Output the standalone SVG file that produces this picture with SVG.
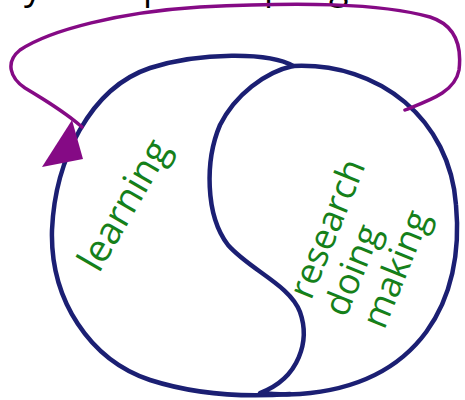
<svg xmlns="http://www.w3.org/2000/svg" width="465" height="400" viewBox="0 0 465 400">
<defs>
<style>
.blob{fill:none;stroke:#1b1f73;stroke-width:4.5;stroke-linecap:round;stroke-linejoin:round}
.loop{fill:none;stroke:#850a85;stroke-width:3.5;stroke-linecap:round}
.lbl{font-family:"Open Sans","Noto Sans",sans-serif;font-size:36px;fill:#15801a}
.top{font-family:"Open Sans","Noto Sans",sans-serif;font-size:36px;fill:#000}
</style>
</defs>
<rect width="465" height="400" fill="#fff"/>
<g id="title-fragment">
<text class="top" x="24" y="-1">y</text>
<text class="top" x="143" y="-1">p</text>
<text class="top" x="264" y="-1">p</text>
<text class="top" x="329" y="-1">g</text>
</g>
<g id="learning-node">
<path class="blob" d="M293,66 C270,52 200,52 150,68 C90,88 55,160 52,230 C50,300 90,360 150,380 C200,396 250,397 290,394"/>
<text class="lbl" transform="translate(99,274) rotate(-60)" style="font-size:38px">learning</text>
</g>
<g id="doing-node">
<path class="blob" d="M293,66 C380,62 450,120 456,205 C465,300 420,385 300,394 C285,395 270,394 260,393 C300,378 310,340 300,312 C290,285 250,270 228,245 C205,215 205,160 220,125 C235,95 265,72 293,66 Z"/>
<text class="lbl" transform="translate(311,301) rotate(-68)"><tspan x="0" y="0">research</tspan><tspan x="-3" y="39">doing</tspan><tspan x="0" y="79">making</tspan></text>
</g>
<g id="connectors">
<path class="loop" d="M405,110 C430,100 455,92 459,70 C462,45 455,25 430,17 C380,3 300,2 200,7 C120,12 50,30 20,50 C5,62 10,78 25,88 C45,100 65,112 82,127"/>
<polygon points="72,120 83,159 42,167" fill="#850a85"/>
</g>
</svg>
